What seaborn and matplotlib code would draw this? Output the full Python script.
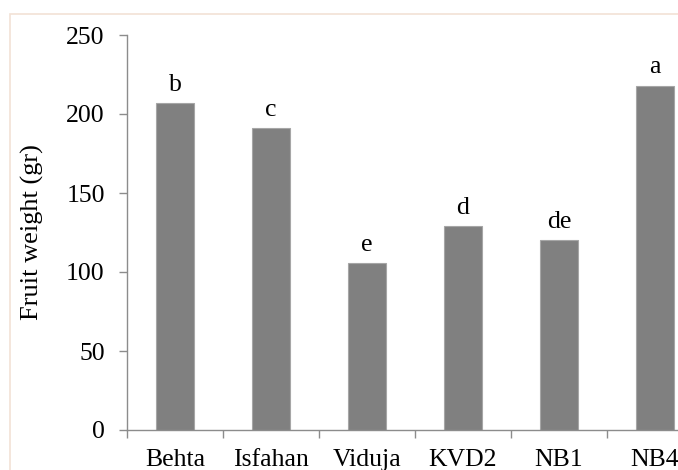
import matplotlib
matplotlib.use("Agg")
import matplotlib.pyplot as plt
from matplotlib.patches import Rectangle
import seaborn as sns
import pandas as pd
import numpy as np

cultivars = ["Behta", "Isfahan", "Viduja", "KVD2", "NB1", "NB4"]
fruit_weight = [207, 191, 105.5, 129, 120, 218]
groups = ["b", "c", "e", "d", "de", "a"]

sns.set_theme(style="white")
plt.rcParams["font.family"] = ["Liberation Serif", "DejaVu Serif"]

df = pd.DataFrame({"cultivar": cultivars, "weight": fruit_weight})

W, H = 678, 470
fig = plt.figure(figsize=(W / 100, H / 100), dpi=100)
ax = fig.add_axes([127 / W, 40 / H, 576 / W, 395 / H])

sns.barplot(data=df, x="cultivar", y="weight", ax=ax, color="#808080",
            saturation=1, width=0.39, edgecolor="#a6a6a6", linewidth=0.8)

ax.set_xlim(-0.5, len(cultivars) - 0.5)
ax.set_ylim(0, 250)
ax.set_yticks(np.arange(0, 251, 50))

# letters for mean separation above each bar
for i, (v, g) in enumerate(zip(fruit_weight, groups)):
    ax.text(i, v + 4.5, g, ha="center", va="bottom", fontsize=18.5, color="black")

for side in ["top", "right"]:
    ax.spines[side].set_visible(False)
for side in ["left", "bottom"]:
    ax.spines[side].set_color("#8c8c8c")
    ax.spines[side].set_linewidth(1.0)

ax.set_xticks(range(len(cultivars)))
ax.set_xticklabels(cultivars)
ax.set_xticks(np.arange(-0.5, len(cultivars), 1.0), minor=True)
ax.tick_params(axis="x", which="major", length=0, pad=14, labelsize=18.5, colors="black")
ax.tick_params(axis="x", which="minor", length=6, width=1, color="#8c8c8c", direction="out", bottom=True)
ax.tick_params(axis="y", which="major", length=6, width=1, color="#8c8c8c", direction="out",
               left=True, pad=10, labelsize=18.5, labelcolor="black")

ax.set_xlabel("")
ax.set_ylabel("Fruit weight (gr)", fontsize=19, labelpad=16, color="black")

# light outer frame
fig.patches.append(Rectangle((10 / W, -0.1), 1.2, 1 - 14 / H + 0.1, transform=fig.transFigure,
                             fill=False, edgecolor="#f2e2d6", linewidth=1.2, zorder=-1))

fig.savefig("out.png", dpi=100)
